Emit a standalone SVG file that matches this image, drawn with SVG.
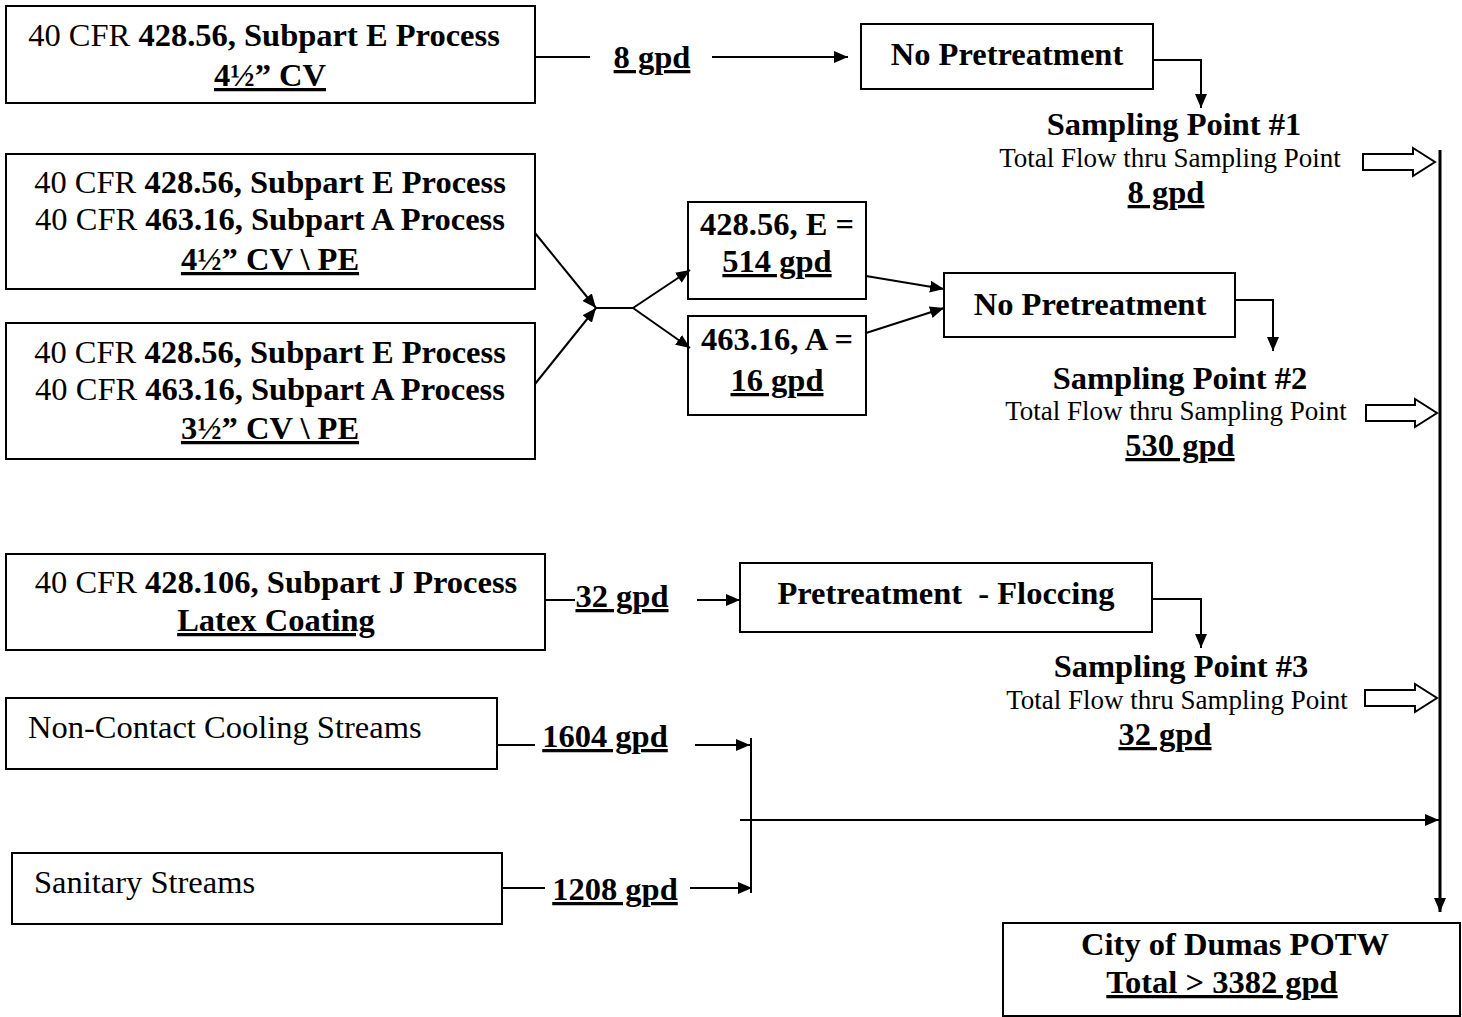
<svg xmlns="http://www.w3.org/2000/svg" width="1462" height="1017" viewBox="0 0 1462 1017">
<style>
text{font-family:"Liberation Serif","Times New Roman",serif;fill:#000}
.t{font-size:32.5px;text-anchor:middle}
.b{font-weight:bold}
.u{text-decoration:underline}
.s{font-size:27px;text-anchor:middle}
.box{fill:#fff;stroke:#000;stroke-width:2}
.ln{fill:none;stroke:#000;stroke-width:2}
.hol{fill:#fff;stroke:#000;stroke-width:2;stroke-linejoin:miter}
</style>
<defs>
<marker id="ah" viewBox="0 0 14 12" refX="14" refY="6" markerWidth="14" markerHeight="12" markerUnits="userSpaceOnUse" orient="auto">
<path d="M0,0 L14,6 L0,12 z" fill="#000"/>
</marker>
</defs>
<rect width="1462" height="1017" fill="#fff"/>

<g id="src1">
<rect class="box" x="6" y="6" width="529" height="97"/>
<text class="t" x="264" y="46">40 CFR <tspan class="b">428.56, Subpart E Process</tspan></text>
<text class="t b u" x="270" y="86">4½” CV</text>
</g>

<g id="src2">
<rect class="box" x="6" y="154" width="529" height="135"/>
<text class="t" x="270" y="193">40 CFR <tspan class="b">428.56, Subpart E Process</tspan></text>
<text class="t" x="270" y="230">40 CFR <tspan class="b">463.16, Subpart A Process</tspan></text>
<text class="t b u" x="270" y="270">4½” CV \ PE</text>
</g>

<g id="src3">
<rect class="box" x="6" y="323" width="529" height="136"/>
<text class="t" x="270" y="363">40 CFR <tspan class="b">428.56, Subpart E Process</tspan></text>
<text class="t" x="270" y="400">40 CFR <tspan class="b">463.16, Subpart A Process</tspan></text>
<text class="t b u" x="270" y="439">3½” CV \ PE</text>
</g>

<g id="src4">
<rect class="box" x="6" y="554" width="539" height="96"/>
<text class="t" x="276" y="593">40 CFR <tspan class="b">428.106, Subpart J Process</tspan></text>
<text class="t b u" x="276" y="631">Latex Coating</text>
</g>

<g id="src5">
<rect class="box" x="6" y="698" width="491" height="71"/>
<text x="28" y="738" style="font-size:32.5px">Non-Contact Cooling Streams</text>
</g>

<g id="src6">
<rect class="box" x="12" y="853" width="490" height="71"/>
<text x="34" y="893" style="font-size:32.5px">Sanitary Streams</text>
</g>

<g id="split1">
<rect class="box" x="688" y="202" width="178" height="97"/>
<text class="t b" x="777" y="235">428.56, E =</text>
<text class="t b u" x="777" y="272">514 gpd</text>
</g>

<g id="split2">
<rect class="box" x="688" y="316" width="178" height="99"/>
<text class="t b" x="777" y="350">463.16, A =</text>
<text class="t b u" x="777" y="391">16 gpd</text>
</g>

<g id="treat1">
<rect class="box" x="861" y="24" width="292" height="65"/>
<text class="t b" x="1007" y="65">No Pretreatment</text>
</g>

<g id="treat2">
<rect class="box" x="944" y="273" width="291" height="64"/>
<text class="t b" x="1090" y="315">No Pretreatment</text>
</g>

<g id="treat3">
<rect class="box" x="740" y="563" width="412" height="69"/>
<text class="t b" x="946" y="604" style="white-space:pre">Pretreatment  - Floccing</text>
</g>

<g id="sp1">
<text class="t b" x="1174" y="135">Sampling Point #1</text>
<text class="s" x="1170" y="167">Total Flow thru Sampling Point</text>
<text class="t b u" x="1166" y="203">8 gpd</text>
</g>

<g id="sp2">
<text class="t b" x="1180" y="389">Sampling Point #2</text>
<text class="s" x="1176" y="420">Total Flow thru Sampling Point</text>
<text class="t b u" x="1180" y="456">530 gpd</text>
</g>

<g id="sp3">
<text class="t b" x="1181" y="677">Sampling Point #3</text>
<text class="s" x="1177" y="709">Total Flow thru Sampling Point</text>
<text class="t b u" x="1165" y="745">32 gpd</text>
</g>

<g id="potw">
<rect class="box" x="1003" y="923" width="457" height="93"/>
<text class="t b" x="1235" y="955">City of Dumas POTW</text>
<text class="t b u" x="1222" y="993">Total &gt; 3382 gpd</text>
</g>

<g id="connectors">
<text class="t b u" x="652" y="68">8 gpd</text>
<text class="t b u" x="622" y="607">32 gpd</text>
<text class="t b u" x="605" y="747">1604 gpd</text>
<text class="t b u" x="615" y="900">1208 gpd</text>

<line class="ln" x1="535" y1="57" x2="590" y2="57"/>
<line class="ln" x1="712" y1="57" x2="848" y2="57" marker-end="url(#ah)"/>

<polyline class="ln" points="1153,60 1201,60 1201,108" marker-end="url(#ah)"/>
<polyline class="ln" points="1235,300 1273,300 1273,351" marker-end="url(#ah)"/>
<polyline class="ln" points="1152,599 1201,599 1201,648" marker-end="url(#ah)"/>

<line class="ln" x1="535" y1="233" x2="596" y2="308" marker-end="url(#ah)"/>
<line class="ln" x1="535" y1="384" x2="596" y2="308" marker-end="url(#ah)"/>
<line class="ln" x1="596" y1="308" x2="633" y2="308"/>
<line class="ln" x1="633" y1="308" x2="690" y2="270" marker-end="url(#ah)"/>
<line class="ln" x1="633" y1="308" x2="690" y2="348" marker-end="url(#ah)"/>
<line class="ln" x1="866" y1="276" x2="944" y2="289" marker-end="url(#ah)"/>
<line class="ln" x1="866" y1="333" x2="944" y2="308" marker-end="url(#ah)"/>

<line class="ln" x1="545" y1="600" x2="575" y2="600"/>
<line class="ln" x1="697" y1="600" x2="740" y2="600" marker-end="url(#ah)"/>

<line class="ln" x1="497" y1="745" x2="535" y2="745"/>
<line class="ln" x1="695" y1="745" x2="750" y2="745" marker-end="url(#ah)"/>
<line class="ln" x1="502" y1="888" x2="545" y2="888"/>
<line class="ln" x1="690" y1="888" x2="752" y2="888" marker-end="url(#ah)"/>
<line class="ln" x1="751" y1="738" x2="751" y2="893"/>
<line class="ln" x1="740" y1="820" x2="1439" y2="820" marker-end="url(#ah)"/>

<line class="ln" x1="1440" y1="150" x2="1440" y2="912" marker-end="url(#ah)" style="stroke-width:3"/>

<path class="hol" d="M1363,154 L1413,154 L1413,148 L1435,162 L1413,176 L1413,170 L1363,170 Z"/>
<path class="hol" d="M1366,405 L1415,405 L1415,399 L1437,413 L1415,427 L1415,421 L1366,421 Z"/>
<path class="hol" d="M1365,690 L1415,690 L1415,684 L1437,698 L1415,712 L1415,706 L1365,706 Z"/>
</g>
</svg>
